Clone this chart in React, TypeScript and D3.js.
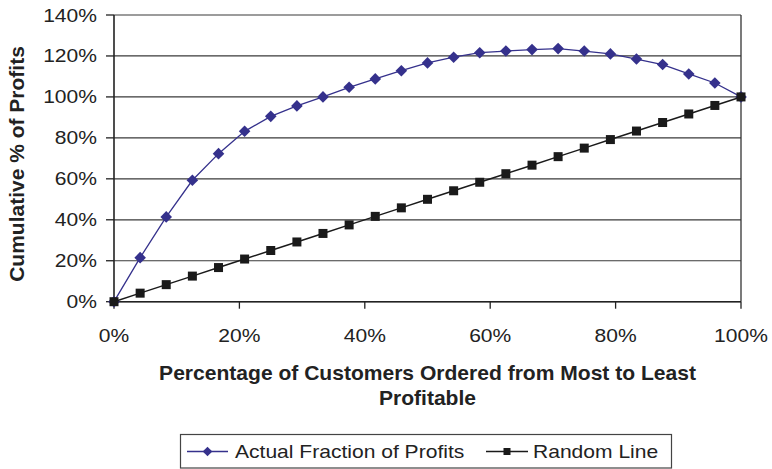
import React from "react";
import * as d3 from "d3";

const xFractions = [
  0, 0.0417, 0.0833, 0.125, 0.1667, 0.2083, 0.25, 0.2917, 0.3333, 0.375, 0.4167,
  0.4583, 0.5, 0.5417, 0.5833, 0.625, 0.6667, 0.7083, 0.75, 0.7917, 0.8333,
  0.875, 0.9167, 0.9583, 1,
];
const actualProfits = [
  0, 21.5, 41.4, 59.3, 72.3, 83.2, 90.5, 95.6, 100, 104.7, 108.8, 112.8, 116.6,
  119.4, 121.6, 122.4, 123.1, 123.6, 122.4, 121, 118.5, 115.8, 111.2, 106.8, 100,
];
const randomLine = [
  0, 4.17, 8.33, 12.5, 16.67, 20.83, 25, 29.17, 33.33, 37.5, 41.67, 45.83, 50,
  54.17, 58.33, 62.5, 66.67, 70.83, 75, 79.17, 83.33, 87.5, 91.67, 95.83, 100,
];
const yTicks = [0, 20, 40, 60, 80, 100, 120, 140];
const xTicks = [0, 0.2, 0.4, 0.6, 0.8, 1];
const seriesNames = ["Actual Fraction of Profits", "Random Line"];
const xTitleLines = ["Percentage of Customers Ordered from Most to Least", "Profitable"];
const yTitle = "Cumulative % of Profits";

const FONT = "'Liberation Sans', Arial, Helvetica, sans-serif";
const BLUE = "#35318c";
const BLACK = "#1a1a1a";

function SText({ x, y, sx = 1, size, anchor = "start", weight = "normal", children }: any) {
  return (
    <text
      transform={`translate(${x},${y}) scale(${sx},1)`}
      fontFamily={FONT}
      fontSize={size}
      fontWeight={weight}
      textAnchor={anchor}
      fill="#222"
    >
      {children}
    </text>
  );
}

export default function App() {
  const W = 772;
  const H = 469;
  const left = 114;
  const right = 741;
  const top = 15;
  const bottom = 301.7;

  const x = d3.scaleLinear().domain([0, 1]).range([left, right]);
  const y = d3.scaleLinear().domain([0, 140]).range([bottom, top]);

  const actualPts = xFractions.map((f, i) => [x(f), y(actualProfits[i])] as [number, number]);
  const randomPts = xFractions.map((f, i) => [x(f), y(randomLine[i])] as [number, number]);
  const line = d3.line();

  const diamond = (cx: number, cy: number, r: number) =>
    `M${cx},${cy - r}L${cx + r},${cy}L${cx},${cy + r}L${cx - r},${cy}Z`;

  const tickSx = 1.17;

  return (
    <svg
      width={W}
      height={H}
      style={{ position: "absolute", left: 0, top: 0, background: "#fff" }}
    >
      {/* gridlines */}
      {yTicks.map((t) => (
        <line key={"g" + t} x1={left} x2={right} y1={y(t)} y2={y(t)} stroke="#3a3a3a" strokeWidth={1.2} />
      ))}
      {/* right border */}
      <line x1={right} x2={right} y1={top} y2={bottom} stroke="#333" strokeWidth={1.3} />
      {/* axes */}
      <line x1={left} x2={left} y1={top} y2={bottom} stroke="#222" strokeWidth={1.6} />
      <line x1={left} x2={right} y1={bottom} y2={bottom} stroke="#222" strokeWidth={1.6} />
      {/* y ticks */}
      {yTicks.map((t) => (
        <g key={"yt" + t}>
          <line x1={left - 8} x2={left} y1={y(t)} y2={y(t)} stroke="#222" strokeWidth={1.3} />
          <SText x={97} y={y(t) + 6.5} sx={tickSx} size={18} anchor="end">
            {`${t}%`}
          </SText>
        </g>
      ))}
      {/* x ticks */}
      {xTicks.map((t) => (
        <g key={"xt" + t}>
          <line x1={x(t)} x2={x(t)} y1={bottom} y2={bottom + 7} stroke="#222" strokeWidth={1.3} />
          <SText x={x(t)} y={342} sx={tickSx} size={18} anchor="middle">
            {`${Math.round(t * 100)}%`}
          </SText>
        </g>
      ))}
      {/* x title */}
      {xTitleLines.map((l, i) => (
        <SText key={l} x={(left + right) / 2} y={380 + i * 25} sx={1.08} size={19.5} weight="bold" anchor="middle">
          {l}
        </SText>
      ))}
      {/* y title */}
      <text
        transform={`translate(23.5,164) rotate(-90)`}
        fontFamily={FONT}
        fontSize={21}
        fontWeight="bold"
        textAnchor="middle"
        fill="#222"
      >
        {yTitle}
      </text>

      {/* actual series */}
      <path d={line(actualPts) || ""} fill="none" stroke={BLUE} strokeWidth={1.3} />
      {actualPts.map(([cx, cy], i) => (
        <path key={"d" + i} d={diamond(cx, cy, 5.8)} fill={BLUE} />
      ))}
      {/* random series */}
      <path d={line(randomPts) || ""} fill="none" stroke={BLACK} strokeWidth={1.5} />
      {randomPts.map(([cx, cy], i) => (
        <rect key={"s" + i} x={cx - 4.5} y={cy - 4.5} width={9} height={9} fill={BLACK} />
      ))}

      {/* legend */}
      <rect x={180.5} y={434.5} width={491} height={33.5} fill="#fff" stroke="#444" strokeWidth={1.2} />
      <line x1={187} x2={228} y1={451.5} y2={451.5} stroke={BLUE} strokeWidth={1.3} />
      <path d={diamond(207.5, 451.5, 4.8)} fill={BLUE} />
      <SText x={235} y={457.7} sx={tickSx} size={18}>
        {seriesNames[0]}
      </SText>
      <line x1={486} x2={528} y1={451.5} y2={451.5} stroke={BLACK} strokeWidth={1.5} />
      <rect x={503.5} y={448} width={7} height={7} fill={BLACK} />
      <SText x={533} y={457.7} sx={tickSx} size={18}>
        {seriesNames[1]}
      </SText>
    </svg>
  );
}
